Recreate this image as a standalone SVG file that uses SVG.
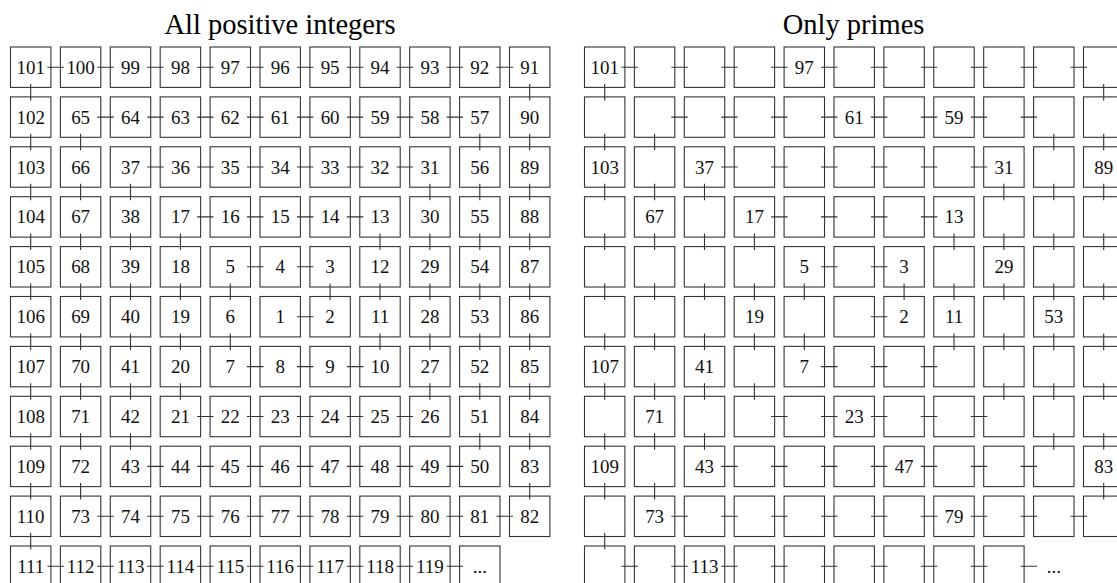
<svg xmlns="http://www.w3.org/2000/svg" xmlns:xlink="http://www.w3.org/1999/xlink" width="1117" height="583" viewBox="0 0 1117 583">
<style>
.title{font-family:"Liberation Serif","Times New Roman",serif;font-size:28.5px;fill:#000;text-anchor:middle}
text{font-family:"Liberation Serif","Times New Roman",serif;font-size:19px;fill:#111;text-anchor:middle}
.bx{fill:none;stroke:#333;stroke-width:1.1}
.lk{fill:none;stroke:#333;stroke-width:1.1}
</style>
<defs>
<rect id="bx" class="bx" x="-20.25" y="-20.25" width="40.5" height="40.5"/>
</defs>
<rect width="1117" height="583" fill="#fff"/>
<text class="title" x="280" y="33.5">All positive integers</text>
<text class="title" x="853.6" y="33.5">Only primes</text>

<g id="left-grid" transform="translate(30.7 67.2) scale(0.998)">
<g id="left-connectors">
<path class="lk" d="M16.75 0h16.5M66.75 0h16.5M116.75 0h16.5M166.75 0h16.5M216.75 0h16.5M266.75 0h16.5M316.75 0h16.5M366.75 0h16.5M416.75 0h16.5M466.75 0h16.5M66.75 50h16.5M116.75 50h16.5M166.75 50h16.5M216.75 50h16.5M266.75 50h16.5M316.75 50h16.5M366.75 50h16.5M416.75 50h16.5M116.75 100h16.5M166.75 100h16.5M216.75 100h16.5M266.75 100h16.5M316.75 100h16.5M366.75 100h16.5M166.75 150h16.5M216.75 150h16.5M266.75 150h16.5M316.75 150h16.5M216.75 200h16.5M266.75 200h16.5M266.75 250h16.5M216.75 300h16.5M266.75 300h16.5M316.75 300h16.5M166.75 350h16.5M216.75 350h16.5M266.75 350h16.5M316.75 350h16.5M366.75 350h16.5M116.75 400h16.5M166.75 400h16.5M216.75 400h16.5M266.75 400h16.5M316.75 400h16.5M366.75 400h16.5M416.75 400h16.5M66.75 450h16.5M116.75 450h16.5M166.75 450h16.5M216.75 450h16.5M266.75 450h16.5M316.75 450h16.5M366.75 450h16.5M416.75 450h16.5M466.75 450h16.5M16.75 500h16.5M66.75 500h16.5M116.75 500h16.5M166.75 500h16.5M216.75 500h16.5M266.75 500h16.5M316.75 500h16.5M366.75 500h16.5M416.75 500h16.5"/>
<path class="lk" d="M0 16.75v16.5M0 66.75v16.5M0 116.75v16.5M0 166.75v16.5M0 216.75v16.5M0 266.75v16.5M0 316.75v16.5M0 366.75v16.5M0 416.75v16.5M0 466.75v16.5M50 66.75v16.5M50 116.75v16.5M50 166.75v16.5M50 216.75v16.5M50 266.75v16.5M50 316.75v16.5M50 366.75v16.5M50 416.75v16.5M100 116.75v16.5M100 166.75v16.5M100 216.75v16.5M100 266.75v16.5M100 316.75v16.5M100 366.75v16.5M150 166.75v16.5M150 216.75v16.5M150 266.75v16.5M150 316.75v16.5M200 216.75v16.5M200 266.75v16.5M300 216.75v16.5M350 166.75v16.5M350 216.75v16.5M350 266.75v16.5M400 116.75v16.5M400 166.75v16.5M400 216.75v16.5M400 266.75v16.5M400 316.75v16.5M450 66.75v16.5M450 116.75v16.5M450 166.75v16.5M450 216.75v16.5M450 266.75v16.5M450 316.75v16.5M450 366.75v16.5M500 16.75v16.5M500 66.75v16.5M500 116.75v16.5M500 166.75v16.5M500 216.75v16.5M500 266.75v16.5M500 316.75v16.5M500 366.75v16.5M500 416.75v16.5"/>
</g>
<g id="left-nodes">
<g id="L101" transform="translate(0 0)"><use href="#bx"/><text y="6.5">101</text></g>
<g id="L100" transform="translate(50 0)"><use href="#bx"/><text y="6.5">100</text></g>
<g id="L99" transform="translate(100 0)"><use href="#bx"/><text y="6.5">99</text></g>
<g id="L98" transform="translate(150 0)"><use href="#bx"/><text y="6.5">98</text></g>
<g id="L97" transform="translate(200 0)"><use href="#bx"/><text y="6.5">97</text></g>
<g id="L96" transform="translate(250 0)"><use href="#bx"/><text y="6.5">96</text></g>
<g id="L95" transform="translate(300 0)"><use href="#bx"/><text y="6.5">95</text></g>
<g id="L94" transform="translate(350 0)"><use href="#bx"/><text y="6.5">94</text></g>
<g id="L93" transform="translate(400 0)"><use href="#bx"/><text y="6.5">93</text></g>
<g id="L92" transform="translate(450 0)"><use href="#bx"/><text y="6.5">92</text></g>
<g id="L91" transform="translate(500 0)"><use href="#bx"/><text y="6.5">91</text></g>

<g id="L102" transform="translate(0 50)"><use href="#bx"/><text y="6.5">102</text></g>
<g id="L65" transform="translate(50 50)"><use href="#bx"/><text y="6.5">65</text></g>
<g id="L64" transform="translate(100 50)"><use href="#bx"/><text y="6.5">64</text></g>
<g id="L63" transform="translate(150 50)"><use href="#bx"/><text y="6.5">63</text></g>
<g id="L62" transform="translate(200 50)"><use href="#bx"/><text y="6.5">62</text></g>
<g id="L61" transform="translate(250 50)"><use href="#bx"/><text y="6.5">61</text></g>
<g id="L60" transform="translate(300 50)"><use href="#bx"/><text y="6.5">60</text></g>
<g id="L59" transform="translate(350 50)"><use href="#bx"/><text y="6.5">59</text></g>
<g id="L58" transform="translate(400 50)"><use href="#bx"/><text y="6.5">58</text></g>
<g id="L57" transform="translate(450 50)"><use href="#bx"/><text y="6.5">57</text></g>
<g id="L90" transform="translate(500 50)"><use href="#bx"/><text y="6.5">90</text></g>

<g id="L103" transform="translate(0 100)"><use href="#bx"/><text y="6.5">103</text></g>
<g id="L66" transform="translate(50 100)"><use href="#bx"/><text y="6.5">66</text></g>
<g id="L37" transform="translate(100 100)"><use href="#bx"/><text y="6.5">37</text></g>
<g id="L36" transform="translate(150 100)"><use href="#bx"/><text y="6.5">36</text></g>
<g id="L35" transform="translate(200 100)"><use href="#bx"/><text y="6.5">35</text></g>
<g id="L34" transform="translate(250 100)"><use href="#bx"/><text y="6.5">34</text></g>
<g id="L33" transform="translate(300 100)"><use href="#bx"/><text y="6.5">33</text></g>
<g id="L32" transform="translate(350 100)"><use href="#bx"/><text y="6.5">32</text></g>
<g id="L31" transform="translate(400 100)"><use href="#bx"/><text y="6.5">31</text></g>
<g id="L56" transform="translate(450 100)"><use href="#bx"/><text y="6.5">56</text></g>
<g id="L89" transform="translate(500 100)"><use href="#bx"/><text y="6.5">89</text></g>

<g id="L104" transform="translate(0 150)"><use href="#bx"/><text y="6.5">104</text></g>
<g id="L67" transform="translate(50 150)"><use href="#bx"/><text y="6.5">67</text></g>
<g id="L38" transform="translate(100 150)"><use href="#bx"/><text y="6.5">38</text></g>
<g id="L17" transform="translate(150 150)"><use href="#bx"/><text y="6.5">17</text></g>
<g id="L16" transform="translate(200 150)"><use href="#bx"/><text y="6.5">16</text></g>
<g id="L15" transform="translate(250 150)"><use href="#bx"/><text y="6.5">15</text></g>
<g id="L14" transform="translate(300 150)"><use href="#bx"/><text y="6.5">14</text></g>
<g id="L13" transform="translate(350 150)"><use href="#bx"/><text y="6.5">13</text></g>
<g id="L30" transform="translate(400 150)"><use href="#bx"/><text y="6.5">30</text></g>
<g id="L55" transform="translate(450 150)"><use href="#bx"/><text y="6.5">55</text></g>
<g id="L88" transform="translate(500 150)"><use href="#bx"/><text y="6.5">88</text></g>

<g id="L105" transform="translate(0 200)"><use href="#bx"/><text y="6.5">105</text></g>
<g id="L68" transform="translate(50 200)"><use href="#bx"/><text y="6.5">68</text></g>
<g id="L39" transform="translate(100 200)"><use href="#bx"/><text y="6.5">39</text></g>
<g id="L18" transform="translate(150 200)"><use href="#bx"/><text y="6.5">18</text></g>
<g id="L5" transform="translate(200 200)"><use href="#bx"/><text y="6.5">5</text></g>
<g id="L4" transform="translate(250 200)"><use href="#bx"/><text y="6.5">4</text></g>
<g id="L3" transform="translate(300 200)"><use href="#bx"/><text y="6.5">3</text></g>
<g id="L12" transform="translate(350 200)"><use href="#bx"/><text y="6.5">12</text></g>
<g id="L29" transform="translate(400 200)"><use href="#bx"/><text y="6.5">29</text></g>
<g id="L54" transform="translate(450 200)"><use href="#bx"/><text y="6.5">54</text></g>
<g id="L87" transform="translate(500 200)"><use href="#bx"/><text y="6.5">87</text></g>

<g id="L106" transform="translate(0 250)"><use href="#bx"/><text y="6.5">106</text></g>
<g id="L69" transform="translate(50 250)"><use href="#bx"/><text y="6.5">69</text></g>
<g id="L40" transform="translate(100 250)"><use href="#bx"/><text y="6.5">40</text></g>
<g id="L19" transform="translate(150 250)"><use href="#bx"/><text y="6.5">19</text></g>
<g id="L6" transform="translate(200 250)"><use href="#bx"/><text y="6.5">6</text></g>
<g id="L1" transform="translate(250 250)"><use href="#bx"/><text y="6.5">1</text></g>
<g id="L2" transform="translate(300 250)"><use href="#bx"/><text y="6.5">2</text></g>
<g id="L11" transform="translate(350 250)"><use href="#bx"/><text y="6.5">11</text></g>
<g id="L28" transform="translate(400 250)"><use href="#bx"/><text y="6.5">28</text></g>
<g id="L53" transform="translate(450 250)"><use href="#bx"/><text y="6.5">53</text></g>
<g id="L86" transform="translate(500 250)"><use href="#bx"/><text y="6.5">86</text></g>

<g id="L107" transform="translate(0 300)"><use href="#bx"/><text y="6.5">107</text></g>
<g id="L70" transform="translate(50 300)"><use href="#bx"/><text y="6.5">70</text></g>
<g id="L41" transform="translate(100 300)"><use href="#bx"/><text y="6.5">41</text></g>
<g id="L20" transform="translate(150 300)"><use href="#bx"/><text y="6.5">20</text></g>
<g id="L7" transform="translate(200 300)"><use href="#bx"/><text y="6.5">7</text></g>
<g id="L8" transform="translate(250 300)"><use href="#bx"/><text y="6.5">8</text></g>
<g id="L9" transform="translate(300 300)"><use href="#bx"/><text y="6.5">9</text></g>
<g id="L10" transform="translate(350 300)"><use href="#bx"/><text y="6.5">10</text></g>
<g id="L27" transform="translate(400 300)"><use href="#bx"/><text y="6.5">27</text></g>
<g id="L52" transform="translate(450 300)"><use href="#bx"/><text y="6.5">52</text></g>
<g id="L85" transform="translate(500 300)"><use href="#bx"/><text y="6.5">85</text></g>

<g id="L108" transform="translate(0 350)"><use href="#bx"/><text y="6.5">108</text></g>
<g id="L71" transform="translate(50 350)"><use href="#bx"/><text y="6.5">71</text></g>
<g id="L42" transform="translate(100 350)"><use href="#bx"/><text y="6.5">42</text></g>
<g id="L21" transform="translate(150 350)"><use href="#bx"/><text y="6.5">21</text></g>
<g id="L22" transform="translate(200 350)"><use href="#bx"/><text y="6.5">22</text></g>
<g id="L23" transform="translate(250 350)"><use href="#bx"/><text y="6.5">23</text></g>
<g id="L24" transform="translate(300 350)"><use href="#bx"/><text y="6.5">24</text></g>
<g id="L25" transform="translate(350 350)"><use href="#bx"/><text y="6.5">25</text></g>
<g id="L26" transform="translate(400 350)"><use href="#bx"/><text y="6.5">26</text></g>
<g id="L51" transform="translate(450 350)"><use href="#bx"/><text y="6.5">51</text></g>
<g id="L84" transform="translate(500 350)"><use href="#bx"/><text y="6.5">84</text></g>

<g id="L109" transform="translate(0 400)"><use href="#bx"/><text y="6.5">109</text></g>
<g id="L72" transform="translate(50 400)"><use href="#bx"/><text y="6.5">72</text></g>
<g id="L43" transform="translate(100 400)"><use href="#bx"/><text y="6.5">43</text></g>
<g id="L44" transform="translate(150 400)"><use href="#bx"/><text y="6.5">44</text></g>
<g id="L45" transform="translate(200 400)"><use href="#bx"/><text y="6.5">45</text></g>
<g id="L46" transform="translate(250 400)"><use href="#bx"/><text y="6.5">46</text></g>
<g id="L47" transform="translate(300 400)"><use href="#bx"/><text y="6.5">47</text></g>
<g id="L48" transform="translate(350 400)"><use href="#bx"/><text y="6.5">48</text></g>
<g id="L49" transform="translate(400 400)"><use href="#bx"/><text y="6.5">49</text></g>
<g id="L50" transform="translate(450 400)"><use href="#bx"/><text y="6.5">50</text></g>
<g id="L83" transform="translate(500 400)"><use href="#bx"/><text y="6.5">83</text></g>

<g id="L110" transform="translate(0 450)"><use href="#bx"/><text y="6.5">110</text></g>
<g id="L73" transform="translate(50 450)"><use href="#bx"/><text y="6.5">73</text></g>
<g id="L74" transform="translate(100 450)"><use href="#bx"/><text y="6.5">74</text></g>
<g id="L75" transform="translate(150 450)"><use href="#bx"/><text y="6.5">75</text></g>
<g id="L76" transform="translate(200 450)"><use href="#bx"/><text y="6.5">76</text></g>
<g id="L77" transform="translate(250 450)"><use href="#bx"/><text y="6.5">77</text></g>
<g id="L78" transform="translate(300 450)"><use href="#bx"/><text y="6.5">78</text></g>
<g id="L79" transform="translate(350 450)"><use href="#bx"/><text y="6.5">79</text></g>
<g id="L80" transform="translate(400 450)"><use href="#bx"/><text y="6.5">80</text></g>
<g id="L81" transform="translate(450 450)"><use href="#bx"/><text y="6.5">81</text></g>
<g id="L82" transform="translate(500 450)"><use href="#bx"/><text y="6.5">82</text></g>

<g id="L111" transform="translate(0 500)"><use href="#bx"/><text y="6.5">111</text></g>
<g id="L112" transform="translate(50 500)"><use href="#bx"/><text y="6.5">112</text></g>
<g id="L113" transform="translate(100 500)"><use href="#bx"/><text y="6.5">113</text></g>
<g id="L114" transform="translate(150 500)"><use href="#bx"/><text y="6.5">114</text></g>
<g id="L115" transform="translate(200 500)"><use href="#bx"/><text y="6.5">115</text></g>
<g id="L116" transform="translate(250 500)"><use href="#bx"/><text y="6.5">116</text></g>
<g id="L117" transform="translate(300 500)"><use href="#bx"/><text y="6.5">117</text></g>
<g id="L118" transform="translate(350 500)"><use href="#bx"/><text y="6.5">118</text></g>
<g id="L119" transform="translate(400 500)"><use href="#bx"/><text y="6.5">119</text></g>
<g id="L-more" transform="translate(450 500)"><use href="#bx"/><text y="6.5">...</text></g>
</g>
</g>

<g id="right-grid" transform="translate(604.7 67.2) scale(0.998)">
<g id="right-connectors">
<path class="lk" d="M16.75 0h16.5M66.75 0h16.5M116.75 0h16.5M166.75 0h16.5M216.75 0h16.5M266.75 0h16.5M316.75 0h16.5M366.75 0h16.5M416.75 0h16.5M466.75 0h16.5M66.75 50h16.5M116.75 50h16.5M166.75 50h16.5M216.75 50h16.5M266.75 50h16.5M316.75 50h16.5M366.75 50h16.5M416.75 50h16.5M116.75 100h16.5M166.75 100h16.5M216.75 100h16.5M266.75 100h16.5M316.75 100h16.5M366.75 100h16.5M166.75 150h16.5M216.75 150h16.5M266.75 150h16.5M316.75 150h16.5M216.75 200h16.5M266.75 200h16.5M266.75 250h16.5M216.75 300h16.5M266.75 300h16.5M316.75 300h16.5M166.75 350h16.5M216.75 350h16.5M266.75 350h16.5M316.75 350h16.5M366.75 350h16.5M116.75 400h16.5M166.75 400h16.5M216.75 400h16.5M266.75 400h16.5M316.75 400h16.5M366.75 400h16.5M416.75 400h16.5M66.75 450h16.5M116.75 450h16.5M166.75 450h16.5M216.75 450h16.5M266.75 450h16.5M316.75 450h16.5M366.75 450h16.5M416.75 450h16.5M466.75 450h16.5M16.75 500h16.5M66.75 500h16.5M116.75 500h16.5M166.75 500h16.5M216.75 500h16.5M266.75 500h16.5M316.75 500h16.5M366.75 500h16.5M416.75 500h16.5"/>
<path class="lk" d="M0 16.75v16.5M0 66.75v16.5M0 116.75v16.5M0 166.75v16.5M0 216.75v16.5M0 266.75v16.5M0 316.75v16.5M0 366.75v16.5M0 416.75v16.5M0 466.75v16.5M50 66.75v16.5M50 116.75v16.5M50 166.75v16.5M50 216.75v16.5M50 266.75v16.5M50 316.75v16.5M50 366.75v16.5M50 416.75v16.5M100 116.75v16.5M100 166.75v16.5M100 216.75v16.5M100 266.75v16.5M100 316.75v16.5M100 366.75v16.5M150 166.75v16.5M150 216.75v16.5M150 266.75v16.5M150 316.75v16.5M200 216.75v16.5M200 266.75v16.5M300 216.75v16.5M350 166.75v16.5M350 216.75v16.5M350 266.75v16.5M400 116.75v16.5M400 166.75v16.5M400 216.75v16.5M400 266.75v16.5M400 316.75v16.5M450 66.75v16.5M450 116.75v16.5M450 166.75v16.5M450 216.75v16.5M450 266.75v16.5M450 316.75v16.5M450 366.75v16.5M500 16.75v16.5M500 66.75v16.5M500 116.75v16.5M500 166.75v16.5M500 216.75v16.5M500 266.75v16.5M500 316.75v16.5M500 366.75v16.5M500 416.75v16.5"/>
</g>
<g id="right-nodes">
<g id="R101" transform="translate(0 0)"><use href="#bx"/><text y="6.5">101</text></g>
<g id="R100" transform="translate(50 0)"><use href="#bx"/></g>
<g id="R99" transform="translate(100 0)"><use href="#bx"/></g>
<g id="R98" transform="translate(150 0)"><use href="#bx"/></g>
<g id="R97" transform="translate(200 0)"><use href="#bx"/><text y="6.5">97</text></g>
<g id="R96" transform="translate(250 0)"><use href="#bx"/></g>
<g id="R95" transform="translate(300 0)"><use href="#bx"/></g>
<g id="R94" transform="translate(350 0)"><use href="#bx"/></g>
<g id="R93" transform="translate(400 0)"><use href="#bx"/></g>
<g id="R92" transform="translate(450 0)"><use href="#bx"/></g>
<g id="R91" transform="translate(500 0)"><use href="#bx"/></g>

<g id="R102" transform="translate(0 50)"><use href="#bx"/></g>
<g id="R65" transform="translate(50 50)"><use href="#bx"/></g>
<g id="R64" transform="translate(100 50)"><use href="#bx"/></g>
<g id="R63" transform="translate(150 50)"><use href="#bx"/></g>
<g id="R62" transform="translate(200 50)"><use href="#bx"/></g>
<g id="R61" transform="translate(250 50)"><use href="#bx"/><text y="6.5">61</text></g>
<g id="R60" transform="translate(300 50)"><use href="#bx"/></g>
<g id="R59" transform="translate(350 50)"><use href="#bx"/><text y="6.5">59</text></g>
<g id="R58" transform="translate(400 50)"><use href="#bx"/></g>
<g id="R57" transform="translate(450 50)"><use href="#bx"/></g>
<g id="R90" transform="translate(500 50)"><use href="#bx"/></g>

<g id="R103" transform="translate(0 100)"><use href="#bx"/><text y="6.5">103</text></g>
<g id="R66" transform="translate(50 100)"><use href="#bx"/></g>
<g id="R37" transform="translate(100 100)"><use href="#bx"/><text y="6.5">37</text></g>
<g id="R36" transform="translate(150 100)"><use href="#bx"/></g>
<g id="R35" transform="translate(200 100)"><use href="#bx"/></g>
<g id="R34" transform="translate(250 100)"><use href="#bx"/></g>
<g id="R33" transform="translate(300 100)"><use href="#bx"/></g>
<g id="R32" transform="translate(350 100)"><use href="#bx"/></g>
<g id="R31" transform="translate(400 100)"><use href="#bx"/><text y="6.5">31</text></g>
<g id="R56" transform="translate(450 100)"><use href="#bx"/></g>
<g id="R89" transform="translate(500 100)"><use href="#bx"/><text y="6.5">89</text></g>

<g id="R104" transform="translate(0 150)"><use href="#bx"/></g>
<g id="R67" transform="translate(50 150)"><use href="#bx"/><text y="6.5">67</text></g>
<g id="R38" transform="translate(100 150)"><use href="#bx"/></g>
<g id="R17" transform="translate(150 150)"><use href="#bx"/><text y="6.5">17</text></g>
<g id="R16" transform="translate(200 150)"><use href="#bx"/></g>
<g id="R15" transform="translate(250 150)"><use href="#bx"/></g>
<g id="R14" transform="translate(300 150)"><use href="#bx"/></g>
<g id="R13" transform="translate(350 150)"><use href="#bx"/><text y="6.5">13</text></g>
<g id="R30" transform="translate(400 150)"><use href="#bx"/></g>
<g id="R55" transform="translate(450 150)"><use href="#bx"/></g>
<g id="R88" transform="translate(500 150)"><use href="#bx"/></g>

<g id="R105" transform="translate(0 200)"><use href="#bx"/></g>
<g id="R68" transform="translate(50 200)"><use href="#bx"/></g>
<g id="R39" transform="translate(100 200)"><use href="#bx"/></g>
<g id="R18" transform="translate(150 200)"><use href="#bx"/></g>
<g id="R5" transform="translate(200 200)"><use href="#bx"/><text y="6.5">5</text></g>
<g id="R4" transform="translate(250 200)"><use href="#bx"/></g>
<g id="R3" transform="translate(300 200)"><use href="#bx"/><text y="6.5">3</text></g>
<g id="R12" transform="translate(350 200)"><use href="#bx"/></g>
<g id="R29" transform="translate(400 200)"><use href="#bx"/><text y="6.5">29</text></g>
<g id="R54" transform="translate(450 200)"><use href="#bx"/></g>
<g id="R87" transform="translate(500 200)"><use href="#bx"/></g>

<g id="R106" transform="translate(0 250)"><use href="#bx"/></g>
<g id="R69" transform="translate(50 250)"><use href="#bx"/></g>
<g id="R40" transform="translate(100 250)"><use href="#bx"/></g>
<g id="R19" transform="translate(150 250)"><use href="#bx"/><text y="6.5">19</text></g>
<g id="R6" transform="translate(200 250)"><use href="#bx"/></g>
<g id="R1" transform="translate(250 250)"><use href="#bx"/></g>
<g id="R2" transform="translate(300 250)"><use href="#bx"/><text y="6.5">2</text></g>
<g id="R11" transform="translate(350 250)"><use href="#bx"/><text y="6.5">11</text></g>
<g id="R28" transform="translate(400 250)"><use href="#bx"/></g>
<g id="R53" transform="translate(450 250)"><use href="#bx"/><text y="6.5">53</text></g>
<g id="R86" transform="translate(500 250)"><use href="#bx"/></g>

<g id="R107" transform="translate(0 300)"><use href="#bx"/><text y="6.5">107</text></g>
<g id="R70" transform="translate(50 300)"><use href="#bx"/></g>
<g id="R41" transform="translate(100 300)"><use href="#bx"/><text y="6.5">41</text></g>
<g id="R20" transform="translate(150 300)"><use href="#bx"/></g>
<g id="R7" transform="translate(200 300)"><use href="#bx"/><text y="6.5">7</text></g>
<g id="R8" transform="translate(250 300)"><use href="#bx"/></g>
<g id="R9" transform="translate(300 300)"><use href="#bx"/></g>
<g id="R10" transform="translate(350 300)"><use href="#bx"/></g>
<g id="R27" transform="translate(400 300)"><use href="#bx"/></g>
<g id="R52" transform="translate(450 300)"><use href="#bx"/></g>
<g id="R85" transform="translate(500 300)"><use href="#bx"/></g>

<g id="R108" transform="translate(0 350)"><use href="#bx"/></g>
<g id="R71" transform="translate(50 350)"><use href="#bx"/><text y="6.5">71</text></g>
<g id="R42" transform="translate(100 350)"><use href="#bx"/></g>
<g id="R21" transform="translate(150 350)"><use href="#bx"/></g>
<g id="R22" transform="translate(200 350)"><use href="#bx"/></g>
<g id="R23" transform="translate(250 350)"><use href="#bx"/><text y="6.5">23</text></g>
<g id="R24" transform="translate(300 350)"><use href="#bx"/></g>
<g id="R25" transform="translate(350 350)"><use href="#bx"/></g>
<g id="R26" transform="translate(400 350)"><use href="#bx"/></g>
<g id="R51" transform="translate(450 350)"><use href="#bx"/></g>
<g id="R84" transform="translate(500 350)"><use href="#bx"/></g>

<g id="R109" transform="translate(0 400)"><use href="#bx"/><text y="6.5">109</text></g>
<g id="R72" transform="translate(50 400)"><use href="#bx"/></g>
<g id="R43" transform="translate(100 400)"><use href="#bx"/><text y="6.5">43</text></g>
<g id="R44" transform="translate(150 400)"><use href="#bx"/></g>
<g id="R45" transform="translate(200 400)"><use href="#bx"/></g>
<g id="R46" transform="translate(250 400)"><use href="#bx"/></g>
<g id="R47" transform="translate(300 400)"><use href="#bx"/><text y="6.5">47</text></g>
<g id="R48" transform="translate(350 400)"><use href="#bx"/></g>
<g id="R49" transform="translate(400 400)"><use href="#bx"/></g>
<g id="R50" transform="translate(450 400)"><use href="#bx"/></g>
<g id="R83" transform="translate(500 400)"><use href="#bx"/><text y="6.5">83</text></g>

<g id="R110" transform="translate(0 450)"><use href="#bx"/></g>
<g id="R73" transform="translate(50 450)"><use href="#bx"/><text y="6.5">73</text></g>
<g id="R74" transform="translate(100 450)"><use href="#bx"/></g>
<g id="R75" transform="translate(150 450)"><use href="#bx"/></g>
<g id="R76" transform="translate(200 450)"><use href="#bx"/></g>
<g id="R77" transform="translate(250 450)"><use href="#bx"/></g>
<g id="R78" transform="translate(300 450)"><use href="#bx"/></g>
<g id="R79" transform="translate(350 450)"><use href="#bx"/><text y="6.5">79</text></g>
<g id="R80" transform="translate(400 450)"><use href="#bx"/></g>
<g id="R81" transform="translate(450 450)"><use href="#bx"/></g>
<g id="R82" transform="translate(500 450)"><use href="#bx"/></g>

<g id="R111" transform="translate(0 500)"><use href="#bx"/></g>
<g id="R112" transform="translate(50 500)"><use href="#bx"/></g>
<g id="R113" transform="translate(100 500)"><use href="#bx"/><text y="6.5">113</text></g>
<g id="R114" transform="translate(150 500)"><use href="#bx"/></g>
<g id="R115" transform="translate(200 500)"><use href="#bx"/></g>
<g id="R116" transform="translate(250 500)"><use href="#bx"/></g>
<g id="R117" transform="translate(300 500)"><use href="#bx"/></g>
<g id="R118" transform="translate(350 500)"><use href="#bx"/></g>
<g id="R119" transform="translate(400 500)"><use href="#bx"/></g>
<g id="R-more" transform="translate(450 500)"><text y="6.5">...</text></g>
</g>
</g>
</svg>
